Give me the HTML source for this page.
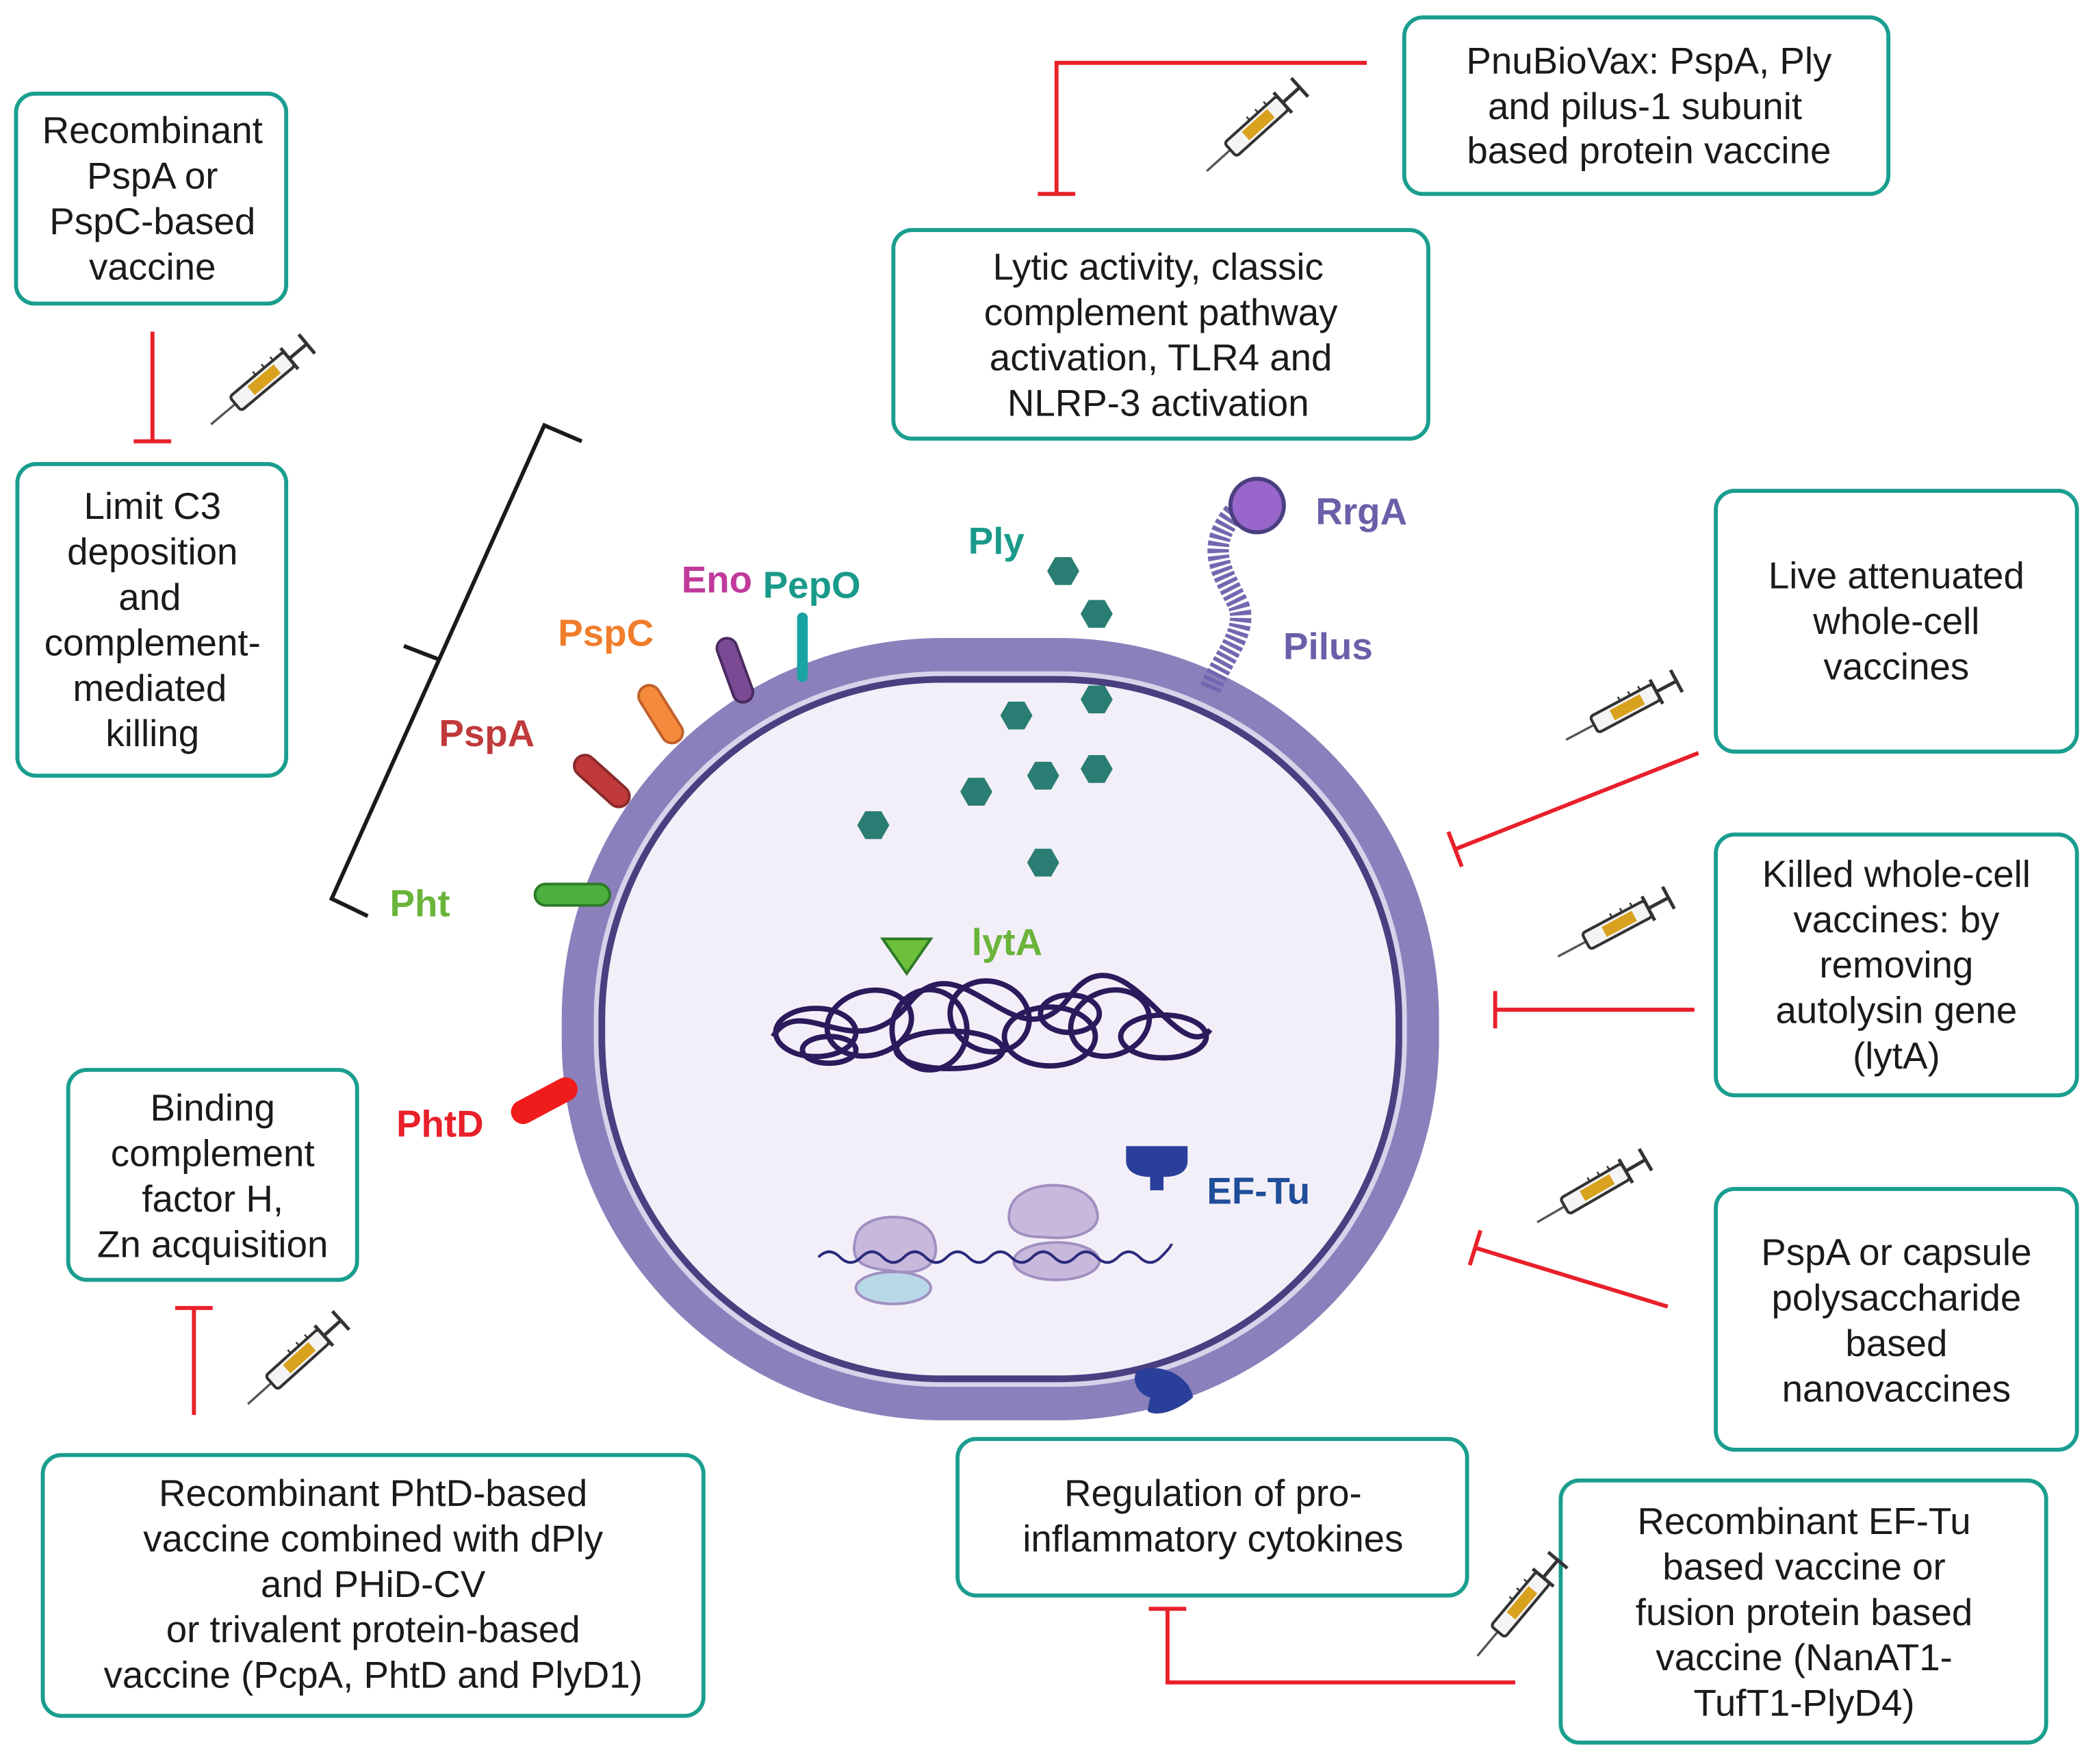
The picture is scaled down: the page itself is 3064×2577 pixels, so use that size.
<!DOCTYPE html>
<html><head><meta charset="utf-8"><style>
html,body{margin:0;padding:0;background:#fff;}
svg{display:block;}
text{font-family:"Liberation Sans",sans-serif;}
.bt{font-size:28px;fill:#1a1a1a;text-anchor:middle;font-stretch:105%;}
.lb{font-size:28px;font-weight:bold;text-anchor:middle;}
</style></head><body>
<svg width="3064" height="2577" viewBox="0 0 1568 1319" preserveAspectRatio="none" xmlns="http://www.w3.org/2000/svg">
<defs>
<g id="syr">
 <line x1="0" y1="0" x2="-28" y2="0" stroke="#555" stroke-width="2"/>
 <rect x="0" y="-8" width="62" height="16" rx="3" fill="#f4f4f4" stroke="#333" stroke-width="2.5"/>
 <rect x="18" y="-5" width="30" height="10" fill="#d9a21e"/>
 <line x1="62" y1="0" x2="82" y2="0" stroke="#333" stroke-width="3"/>
 <line x1="82" y1="-11" x2="82" y2="11" stroke="#333" stroke-width="3"/>
 <line x1="62" y1="-12" x2="62" y2="12" stroke="#333" stroke-width="3"/>
 <line x1="30" y1="-8" x2="30" y2="-12" stroke="#333" stroke-width="1.5"/>
 <line x1="40" y1="-8" x2="40" y2="-12" stroke="#333" stroke-width="1.5"/>
 <line x1="50" y1="-8" x2="50" y2="-12" stroke="#333" stroke-width="1.5"/>
</g>
<polygon id="hex" points="12,0 6,10.4 -6,10.4 -12,0 -6,-10.4 6,-10.4" fill="#2a7d72"/>
</defs>

<g fill="#fff" stroke="#1a9e8f" stroke-width="3">
<rect x="12" y="70" width="202" height="157" rx="14"/>
<rect x="13" y="347" width="201" height="233" rx="14"/>
<rect x="51" y="800" width="216" height="157" rx="14"/>
<rect x="32" y="1088" width="494" height="195" rx="14"/>
<rect x="1050" y="13" width="362" height="132" rx="14"/>
<rect x="668" y="172" width="400" height="156" rx="14"/>
<rect x="1283" y="367" width="270" height="195" rx="14"/>
<rect x="1283" y="624" width="270" height="195" rx="14"/>
<rect x="1283" y="889" width="270" height="195" rx="14"/>
<rect x="716" y="1076" width="381" height="117" rx="14"/>
<rect x="1167" y="1107" width="363" height="196" rx="14"/>
</g>

<g class="bt">
<text x="114" y="107">Recombinant</text><text x="114" y="141">PspA or</text><text x="114" y="175">PspC-based</text><text x="114" y="209">vaccine</text>
<text x="114" y="388">Limit C3</text><text x="114" y="422">deposition</text><text x="112" y="456">and</text><text x="114" y="490">complement-</text><text x="112" y="524">mediated</text><text x="114" y="558">killing</text>
<text x="159" y="838">Binding</text><text x="159" y="872">complement</text><text x="159" y="906">factor H,</text><text x="159" y="940">Zn acquisition</text>
<text x="279" y="1126">Recombinant PhtD-based</text><text x="279" y="1160">vaccine combined with dPly</text><text x="279" y="1194">and PHiD-CV</text><text x="279" y="1228">or trivalent protein-based</text><text x="279" y="1262">vaccine (PcpA, PhtD and PlyD1)</text>
<text x="1233" y="55">PnuBioVax:  PspA, Ply</text><text x="1230" y="89">and pilus-1 subunit</text><text x="1233" y="122">based protein vaccine</text>
<text x="866" y="209">Lytic activity, classic</text><text x="868" y="243">complement pathway</text><text x="868" y="277">activation,  TLR4 and</text><text x="866" y="311">NLRP-3 activation</text>
<text x="1418" y="440">Live attenuated</text><text x="1418" y="474">whole-cell</text><text x="1418" y="508">vaccines</text>
<text x="1418" y="663">Killed whole-cell</text><text x="1418" y="697">vaccines: by</text><text x="1418" y="731">removing</text><text x="1418" y="765">autolysin gene</text><text x="1418" y="799">(lytA)</text>
<text x="1418" y="946">PspA or capsule</text><text x="1418" y="980">polysaccharide</text><text x="1418" y="1014">based</text><text x="1418" y="1048">nanovaccines</text>
<text x="907" y="1126">Regulation of pro-</text><text x="907" y="1160">inflammatory cytokines</text>
<text x="1349" y="1147">Recombinant EF-Tu</text><text x="1349" y="1181">based vaccine or</text><text x="1349" y="1215">fusion protein based</text><text x="1349" y="1249">vaccine (NanAT1-</text><text x="1349" y="1283">TufT1-PlyD4)</text>
</g>

<g stroke="#e8202a" stroke-width="3" fill="none">
<line x1="114" y1="248" x2="114" y2="330"/><line x1="100" y1="330" x2="128" y2="330"/>
<path d="M1022,47 H790 V145"/><line x1="776" y1="145" x2="804" y2="145"/>
<line x1="1270" y1="563" x2="1088" y2="635"/><line x1="1083" y1="622" x2="1093" y2="648"/>
<line x1="1267" y1="755" x2="1118" y2="755"/><line x1="1118" y1="741" x2="1118" y2="769"/>
<line x1="1247" y1="977" x2="1103" y2="933"/><line x1="1107" y1="920" x2="1099" y2="946"/>
<line x1="145" y1="1058" x2="145" y2="978"/><line x1="131" y1="978" x2="159" y2="978"/>
<path d="M1133,1258 H873 V1203"/><line x1="859" y1="1203" x2="887" y2="1203"/>
</g>

<use href="#syr" transform="translate(176,302) rotate(-40) scale(0.85)"/>
<use href="#syr" transform="translate(920,112) rotate(-42) scale(0.85)"/>
<use href="#syr" transform="translate(1192,542) rotate(-28) scale(0.85)"/>
<use href="#syr" transform="translate(1186,704) rotate(-28) scale(0.85)"/>
<use href="#syr" transform="translate(1170,902) rotate(-30) scale(0.85)"/>
<use href="#syr" transform="translate(203,1034) rotate(-42) scale(0.85)"/>
<use href="#syr" transform="translate(1120,1220) rotate(-50) scale(0.85)"/>

<g stroke="#1a1a1a" stroke-width="3" fill="none">
<path d="M435,330 L407,318 L248,672 L275,685"/>
<line x1="328" y1="493" x2="302" y2="483"/>
</g>

<rect x="420" y="477" width="656" height="585" rx="285" fill="#8b80bb"/>
<rect x="444" y="502" width="608" height="535" rx="260" fill="#d8d2ea"/>
<rect x="450" y="508" width="596" height="523" rx="255" fill="#f3eff8" stroke="#4a3f80" stroke-width="5"/>

<path d="M905,515 C915,490 935,470 925,450 C915,430 905,415 915,395 C920,385 925,380 930,378" stroke="#7466b0" stroke-width="16" fill="none" stroke-dasharray="3 2"/>
<circle cx="940" cy="378" r="20" fill="#9966cc" stroke="#4a3f80" stroke-width="3"/>

<rect x="425" y="576" width="50" height="16" rx="8" fill="#c0393b" stroke="#8a2a2a" stroke-width="2" transform="rotate(42 450 584)"/>
<rect x="470" y="526" width="48" height="16" rx="8" fill="#f58a3c" stroke="#c0602a" stroke-width="2" transform="rotate(58 494 534)"/>
<rect x="525" y="494" width="50" height="15" rx="7.5" fill="#7a4a94" stroke="#4a2a60" stroke-width="2" transform="rotate(70 550 501)"/>
<rect x="596" y="458" width="8" height="52" rx="4" fill="#1aa3a3"/>
<rect x="400" y="661" width="56" height="16" rx="8" fill="#4caf3e" stroke="#2d7a28" stroke-width="2"/>
<rect x="380" y="814" width="54" height="18" rx="9" fill="#f01c1c" transform="rotate(-28 407 823)"/>

<use href="#hex" x="795" y="427"/><use href="#hex" x="820" y="459"/><use href="#hex" x="760" y="535"/>
<use href="#hex" x="820" y="523"/><use href="#hex" x="730" y="592"/><use href="#hex" x="780" y="580"/>
<use href="#hex" x="820" y="575"/><use href="#hex" x="653" y="617"/><use href="#hex" x="780" y="645"/>

<polygon points="660,702 696,702 678,728" fill="#6cc03a" stroke="#2d7a28" stroke-width="2"/>

<g stroke="#2b1a5c" stroke-width="4" fill="none">
<ellipse cx="610" cy="772" rx="30" ry="18"/><ellipse cx="650" cy="765" rx="32" ry="24" transform="rotate(-15 650 765)"/>
<ellipse cx="695" cy="770" rx="28" ry="30"/><ellipse cx="740" cy="760" rx="30" ry="26" transform="rotate(20 740 760)"/>
<ellipse cx="785" cy="775" rx="34" ry="22"/><ellipse cx="830" cy="765" rx="30" ry="24" transform="rotate(-20 830 765)"/>
<ellipse cx="870" cy="775" rx="32" ry="16"/><ellipse cx="710" cy="785" rx="40" ry="14"/>
<ellipse cx="800" cy="758" rx="22" ry="14"/><ellipse cx="620" cy="785" rx="20" ry="10"/>
<path d="M578,775 C600,740 640,800 680,750 S760,800 800,745 S880,800 905,770"/>
</g>

<path d="M842,857 H888 V868 C888,878 878,880 870,880 V890 H860 V880 C850,880 842,876 842,868 Z" fill="#2a3f9a"/>
<path d="M850,1025 C870,1018 890,1030 892,1045 C880,1055 865,1060 858,1055 L860,1045 C850,1042 846,1032 850,1025 Z" fill="#2a3f9a"/>

<g fill="#c8b8dc" stroke="#a090c0" stroke-width="2">
<path d="M640,925 C645,905 690,905 698,925 C705,945 690,955 665,950 C640,948 636,940 640,925 Z"/>
<ellipse cx="668" cy="963" rx="28" ry="12" fill="#b8d8e8"/>
<path d="M755,905 C760,880 815,880 820,905 C825,920 805,928 780,925 C760,925 752,918 755,905 Z"/>
<ellipse cx="790" cy="943" rx="32" ry="14"/>
</g>
<path d="M612,940 q8,-8 16,0 t16,0 t16,0 t16,0 t16,0 t16,0 t16,0 t16,0 t16,0 t16,0 t16,0 t16,0 t16,0 t16,0 t16,0 t16,0 t8,-10" stroke="#2b2a7c" stroke-width="2" fill="none"/>

<g class="lb">
<text x="745" y="414" fill="#1a9a8a">Ply</text>
<text x="1018" y="392" fill="#6a5fa8">RrgA</text>
<text x="993" y="493" fill="#6a5fa8">Pilus</text>
<text x="536" y="443" fill="#c0399b">Eno</text>
<text x="607" y="447" fill="#1a9a8a">PepO</text>
<text x="453" y="483" fill="#f07d2c">PspC</text>
<text x="364" y="558" fill="#c0393b">PspA</text>
<text x="314" y="685" fill="#6ab43a">Pht</text>
<text x="753" y="714" fill="#6ab43a">lytA</text>
<text x="329" y="850" fill="#e8202a">PhtD</text>
<text x="941" y="900" fill="#1f4e9a">EF-Tu</text>
</g>
</svg>
</body></html>
